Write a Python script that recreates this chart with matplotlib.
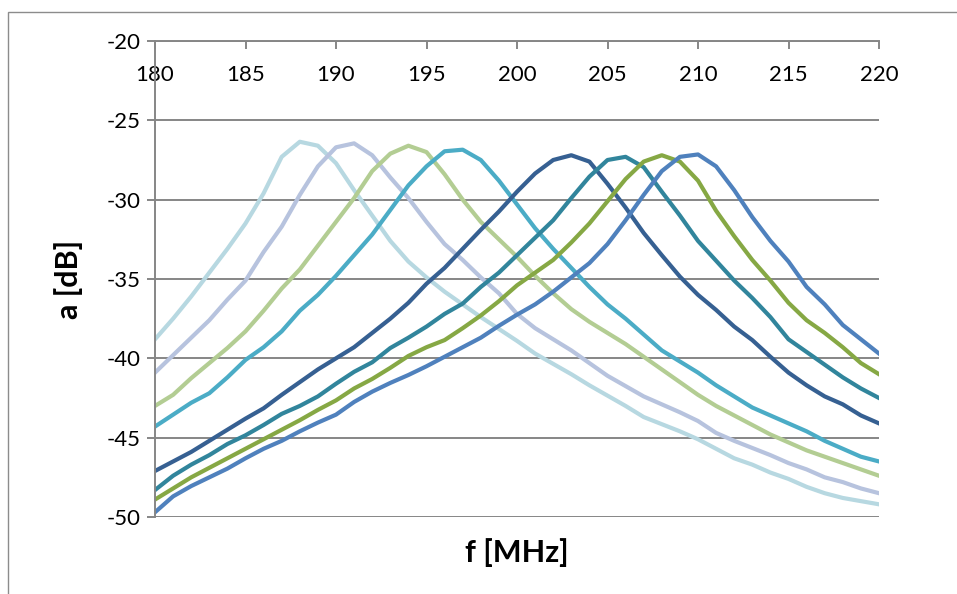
import matplotlib
matplotlib.use("Agg")
import matplotlib.pyplot as plt
from matplotlib.patches import Rectangle

plt.rcParams['font.family'] = ['Lato', 'DejaVu Sans']
plt.rcParams['axes.unicode_minus'] = False

# frequency grid [MHz]
freq = list(range(180, 221))

# attenuation curves [dB]
a1 = [-38.8, -37.5, -36.1, -34.6, -33.1, -31.5, -29.6, -27.3, -26.35, -26.6,
      -27.7, -29.4, -31.0, -32.6, -33.9, -34.9, -35.8, -36.6, -37.4, -38.15,
      -38.9, -39.7, -40.35, -41.0, -41.7, -42.35, -43.0, -43.7, -44.15, -44.6,
      -45.1, -45.7, -46.3, -46.7, -47.2, -47.6, -48.1, -48.5, -48.8, -49.0, -49.2]
a2 = [-40.9, -39.8, -38.7, -37.6, -36.3, -35.1, -33.3, -31.7, -29.7, -27.9,
      -26.7, -26.45, -27.2, -28.6, -29.9, -31.4, -32.8, -33.8, -34.9, -35.9,
      -37.2, -38.1, -38.8, -39.5, -40.3, -41.1, -41.75, -42.4, -42.9, -43.4,
      -43.95, -44.7, -45.2, -45.65, -46.1, -46.6, -47.0, -47.5, -47.8, -48.2, -48.5]
a3 = [-43.0, -42.3, -41.25, -40.3, -39.35, -38.3, -37.0, -35.6, -34.4, -32.9,
      -31.4, -29.9, -28.2, -27.1, -26.6, -27.0, -28.4, -30.0, -31.4, -32.5,
      -33.6, -34.8, -35.9, -36.9, -37.7, -38.4, -39.1, -39.9, -40.7, -41.5,
      -42.3, -43.0, -43.6, -44.2, -44.8, -45.3, -45.8, -46.2, -46.6, -47.0, -47.4]
a4 = [-44.3, -43.55, -42.8, -42.2, -41.2, -40.1, -39.3, -38.3, -37.0, -36.0,
      -34.8, -33.5, -32.2, -30.65, -29.1, -27.9, -26.95, -26.85, -27.5, -28.8,
      -30.3, -31.8, -33.1, -34.3, -35.5, -36.6, -37.5, -38.5, -39.5, -40.2,
      -40.9, -41.7, -42.4, -43.1, -43.6, -44.1, -44.6, -45.2, -45.7, -46.2, -46.5]
a5 = [-47.1, -46.5, -45.9, -45.2, -44.5, -43.8, -43.15, -42.3, -41.5, -40.7,
      -40.0, -39.3, -38.4, -37.5, -36.5, -35.3, -34.3, -33.1, -31.9, -30.75,
      -29.5, -28.35, -27.5, -27.2, -27.6, -29.0, -30.5, -32.1, -33.5, -34.85,
      -36.0, -36.95, -38.0, -38.85, -39.9, -40.9, -41.7, -42.4, -42.9, -43.6, -44.1]
a6 = [-48.3, -47.4, -46.7, -46.1, -45.4, -44.85, -44.2, -43.5, -43.0, -42.4,
      -41.6, -40.85, -40.25, -39.35, -38.7, -38.0, -37.2, -36.55, -35.5, -34.6,
      -33.5, -32.4, -31.3, -29.9, -28.55, -27.5, -27.3, -27.95, -29.5, -31.0,
      -32.6, -33.85, -35.1, -36.2, -37.4, -38.8, -39.6, -40.4, -41.2, -41.9, -42.5]
a7 = [-48.9, -48.2, -47.5, -46.9, -46.3, -45.7, -45.1, -44.5, -43.9, -43.25,
      -42.65, -41.9, -41.3, -40.6, -39.85, -39.3, -38.85, -38.1, -37.3, -36.4,
      -35.4, -34.6, -33.8, -32.7, -31.5, -30.1, -28.7, -27.6, -27.2, -27.6,
      -28.8, -30.7, -32.3, -33.8, -35.1, -36.5, -37.6, -38.4, -39.3, -40.3, -41.0]
a8 = [-49.7, -48.7, -48.05, -47.5, -46.95, -46.3, -45.7, -45.2, -44.6, -44.05,
      -43.55, -42.75, -42.1, -41.55, -41.05, -40.5, -39.9, -39.3, -38.7, -37.95,
      -37.25, -36.6, -35.8, -34.9, -34.0, -32.8, -31.3, -29.7, -28.2, -27.3,
      -27.15, -27.9, -29.4, -31.1, -32.6, -33.9, -35.5, -36.6, -37.9, -38.8, -39.7]

curves = [a1, a2, a3, a4, a5, a6, a7, a8]
colors = ['#B7D8E1', '#B7C3DE', '#B3CD93', '#4BACC6',
          '#366092', '#31859C', '#86A844', '#4F81BD']

xticks = list(range(180, 221, 5))
yticks = list(range(-50, -19, 5))

fig = plt.figure(figsize=(9.57, 5.94), dpi=100)
ax = fig.add_axes([155/957, 1-517/594, 724/957, 476/594])

# outer chart border
fig.patches.append(Rectangle((8/957, -0.05), 1.1, 1-12/594+0.05,
                             transform=fig.transFigure, fill=False,
                             edgecolor='#8c8c8c', lw=1.0))

for vals, c in zip(curves, colors):
    ax.plot(freq, vals, color=c, lw=3.0, solid_joinstyle='round')

ax.set_xlim(180, 220)
ax.set_ylim(-50, -20)
ax.set_xticks(xticks)
ax.set_yticks(yticks)

grid_c = '#868686'
ax.grid(axis='y', color=grid_c, lw=1.4)
ax.set_axisbelow(True)
for s in ['right', 'bottom']:
    ax.spines[s].set_visible(False)
for s in ['left', 'top']:
    ax.spines[s].set_color(grid_c)
    ax.spines[s].set_linewidth(1.4)

ax.tick_params(axis='x', bottom=False, labelbottom=False, top=True, labeltop=True,
               direction='in', length=6, width=1.4, color=grid_c,
               pad=-32, labelsize=16)
ax.tick_params(axis='y', direction='out', length=6, width=1.4, color=grid_c,
               pad=4, labelsize=16)

ax.set_xlabel('f [MHz]', fontsize=22, fontweight='bold')
ax.xaxis.set_label_position('bottom')
ax.xaxis.set_label_coords(0.5, -0.045)
ax.set_ylabel('a [dB]', fontsize=22, fontweight='bold')
ax.yaxis.set_label_coords(-0.10, 0.5)

fig.savefig('out.png', dpi=100)
